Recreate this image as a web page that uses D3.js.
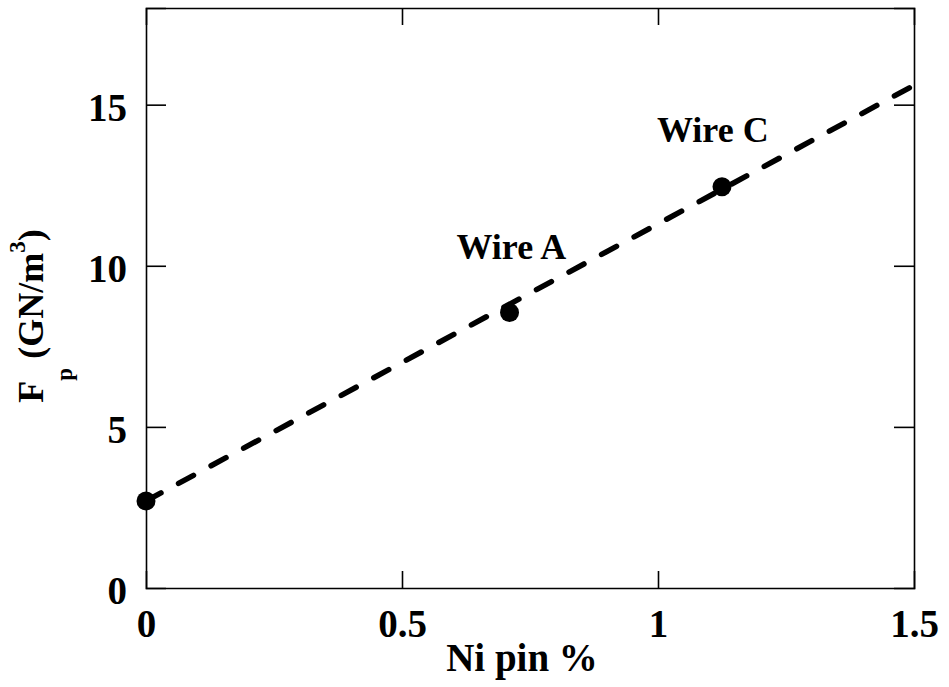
<!DOCTYPE html>
<html>
<head>
<meta charset="utf-8">
<script src="https://cdn.jsdelivr.net/npm/d3@7"></script>
<style>
  body { margin: 0; background: #fff; }
  svg text { font-family: "Liberation Serif", "Tinos", "DejaVu Serif"; font-weight: 700; fill: #000; }
</style>
</head>
<body>
<div id="chart"></div>
<script>
// data
const niPin = [0, 0.71, 1.125];
const fp = [2.7, 8.55, 12.45];
const wireLabels = ["", "Wire A", "Wire C"];
const fitX = [0, 1.5];
const fitY = [2.7, 15.6];
const xTicks = [0, 0.5, 1, 1.5];
const yTicks = [0, 5, 10, 15];

const width = 949, height = 687;
const margin = { top: 8, right: 35, bottom: 99, left: 146 };
// where each wire label sits relative to its point
const labelDx = [0, -53, -65];
const labelDy = [0, -54, -45];

const svg = d3.select("#chart").append("svg")
  .attr("width", width)
  .attr("height", height);

const x = d3.scaleLinear().domain([0, 1.5]).range([margin.left, width - margin.right]);
const y = d3.scaleLinear().domain([0, 18]).range([height - margin.bottom, margin.top]);

// ticks on all four sides, pointing inward
const axBottom = svg.append("g")
  .attr("transform", `translate(0,${y(0)})`)
  .call(d3.axisBottom(x).tickValues(xTicks).tickSize(-17).tickPadding(21).tickFormat(d3.format("")));
const axTop = svg.append("g")
  .attr("transform", `translate(0,${y(18)})`)
  .call(d3.axisTop(x).tickValues(xTicks).tickSize(-17).tickFormat(""));
const axLeft = svg.append("g")
  .attr("transform", `translate(${x(0)},0)`)
  .call(d3.axisLeft(y).tickValues(yTicks).tickSize(-20).tickPadding(19));
const axRight = svg.append("g")
  .attr("transform", `translate(${x(1.5)},0)`)
  .call(d3.axisRight(y).tickValues(yTicks).tickSize(-20).tickFormat(""));

[axBottom, axTop, axLeft, axRight].forEach(g => {
  g.attr("font-family", null).attr("font-size", 39);
  g.select(".domain").attr("stroke", "#000").attr("stroke-width", 1.6);
  g.selectAll(".tick line").attr("stroke", "#000").attr("stroke-width", 1.6);
  g.selectAll(".tick text").attr("fill", "#000");
});
// keep the end ticks from doubling the frame
axBottom.selectAll(".tick line").filter(d => d === 0 || d === 1.5).remove();
axTop.selectAll(".tick line").filter(d => d === 0 || d === 1.5).remove();
axLeft.selectAll(".tick line").filter(d => d === 0).remove();
axRight.selectAll(".tick line").filter(d => d === 0).remove();
axLeft.selectAll(".tick text").attr("dy", "0.4em");

// dashed fit line
svg.append("line")
  .attr("x1", x(fitX[0])).attr("y1", y(fitY[0]))
  .attr("x2", x(fitX[1])).attr("y2", y(fitY[1]))
  .attr("stroke", "#000")
  .attr("stroke-width", 5.5)
  .attr("stroke-linecap", "round")
  .attr("stroke-dasharray", "17,20");

const pts = niPin.map((d, i) => ({ x: d, y: fp[i], label: wireLabels[i], dx: labelDx[i], dy: labelDy[i] }));

svg.selectAll("circle.pt")
  .data(pts)
  .join("circle")
  .attr("class", "pt")
  .attr("cx", d => x(d.x))
  .attr("cy", d => y(d.y))
  .attr("r", 9.5)
  .attr("fill", "#000");

svg.selectAll("text.lab")
  .data(pts.filter(d => d.label))
  .join("text")
  .attr("class", "lab")
  .attr("x", d => x(d.x) + d.dx)
  .attr("y", d => y(d.y) + d.dy)
  .attr("font-size", 36)
  .text(d => d.label);

// axis titles
svg.append("text")
  .attr("x", 522)
  .attr("y", 671)
  .attr("text-anchor", "middle")
  .attr("font-size", 39)
  .text("Ni pin %");

const yt = svg.append("text")
  .attr("transform", "translate(43,316) rotate(-90)")
  .attr("text-anchor", "middle")
  .attr("font-size", 36);
yt.append("tspan").text("F");
yt.append("tspan").attr("font-size", 23).attr("dy", 29).text("p");
yt.append("tspan").attr("dy", -29).text(" (GN/m");
yt.append("tspan").attr("font-size", 23).attr("dy", -18).text("3");
yt.append("tspan").attr("dy", 18).text(")");
</script>
</body>
</html>
